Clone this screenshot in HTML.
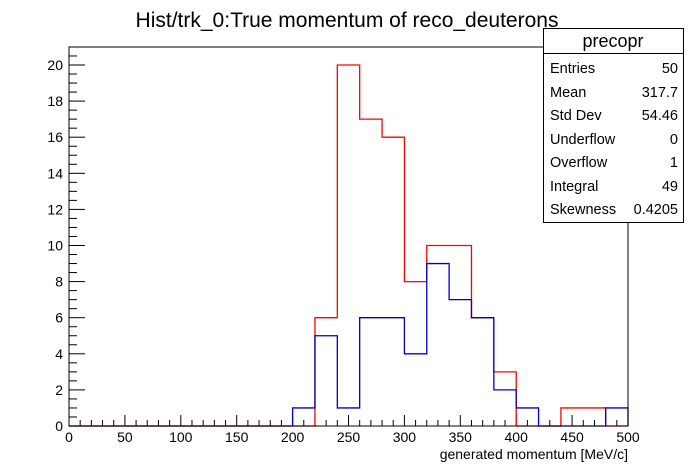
<!DOCTYPE html>
<html><head><meta charset="utf-8"><style>
body{margin:0;background:#fff;}
svg{display:block;font-family:"Liberation Sans",sans-serif;}
</style></head><body>
<svg id="c" width="698" height="474">
<rect x="0" y="0" width="698" height="474" fill="#fff"/>
<text x="347" y="27" font-size="21" text-anchor="middle">Hist/trk_0:True momentum of reco_deuterons</text>
<g id="axes"></g>
<g id="series"></g>
<rect x="69" y="47" width="559" height="379" fill="none" stroke="#000"/>
<text x="628" y="459" font-size="14" text-anchor="end">generated momentum [MeV/c]</text>
<g>
<rect x="543.5" y="28.5" width="140" height="194" fill="#fff" stroke="#000"/>
<line x1="543.5" y1="53.5" x2="683.5" y2="53.5" stroke="#000"/>
<text x="613" y="47" font-size="18" text-anchor="middle">precopr</text>
<g font-size="14.5">
<text x="550" y="73">Entries</text><text x="678" y="73" text-anchor="end">50</text>
<text x="550" y="97">Mean</text><text x="678" y="97" text-anchor="end">317.7</text>
<text x="550" y="120">Std Dev</text><text x="678" y="120" text-anchor="end">54.46</text>
<text x="550" y="144">Underflow</text><text x="678" y="144" text-anchor="end">0</text>
<text x="550" y="167">Overflow</text><text x="678" y="167" text-anchor="end">1</text>
<text x="550" y="191">Integral</text><text x="678" y="191" text-anchor="end">49</text>
<text x="550" y="214">Skewness</text><text x="678" y="214" text-anchor="end">0.4205</text>
</g></g>
</svg>
<script>
const binEdgesStart = 0, binWidth = 20;
const redCounts = [0,0,0,0,0,0,0,0,0,0,0,6,20,17,16,8,10,10,6,3,0,0,1,1,0];
const blueCounts = [0,0,0,0,0,0,0,0,0,0,1,5,1,6,6,4,9,7,6,2,1,0,0,0,1];
const xTicks = [0,50,100,150,200,250,300,350,400,450,500];
const yTicks = [0,2,4,6,8,10,12,14,16,18,20];
const X0=69,X1=628,Y0=426,YT=65;
const xs=v=>X0+(v-0)/500*(X1-X0);
const ys=v=>Y0-v*(Y0-YT)/20;
const NS="http://www.w3.org/2000/svg";
const ax=document.getElementById('axes'), se=document.getElementById('series');
function mk(p,t,a){const e=document.createElementNS(NS,t);for(const k in a)e.setAttribute(k,a[k]);p.appendChild(e);return e;}
for(let v=0;v<=500;v+=10){const big=v%50===0;const l=mk(ax,'line',{x1:xs(v),x2:xs(v),y1:Y0,y2:Y0-(big?11:6),stroke:'#000'});

}
xTicks.forEach(v=>{const t=mk(ax,'text',{x:xs(v),y:442,'font-size':14,'text-anchor':'middle'});t.textContent=v;

});
for(let v=0;v<=21;v+=0.5){const y=ys(v);if(y<47)break;const big=v%2===0;const l=mk(ax,'line',{x1:X0,x2:X0+(big?16:8),y1:y,y2:y,stroke:'#000'});

}
yTicks.forEach(v=>{const t=mk(ax,'text',{x:63,y:ys(v)+5,'font-size':14,'text-anchor':'end'});t.textContent=v;

});
function hist(counts,color,name){let d='M'+xs(binEdgesStart)+','+Y0;
counts.forEach((c,i)=>{const a=xs(binEdgesStart+i*binWidth),b=xs(binEdgesStart+(i+1)*binWidth);d+=' L'+a+','+ys(c)+' L'+b+','+ys(c);});
d+=' L'+xs(binEdgesStart+counts.length*binWidth)+','+Y0;
const p=mk(se,'path',{d:d,fill:'none',stroke:color,'stroke-width':1.3});

}
hist(redCounts,'#f00','red-histogram');
hist(blueCounts,'#00c','blue-histogram');
</script>
</body></html>
